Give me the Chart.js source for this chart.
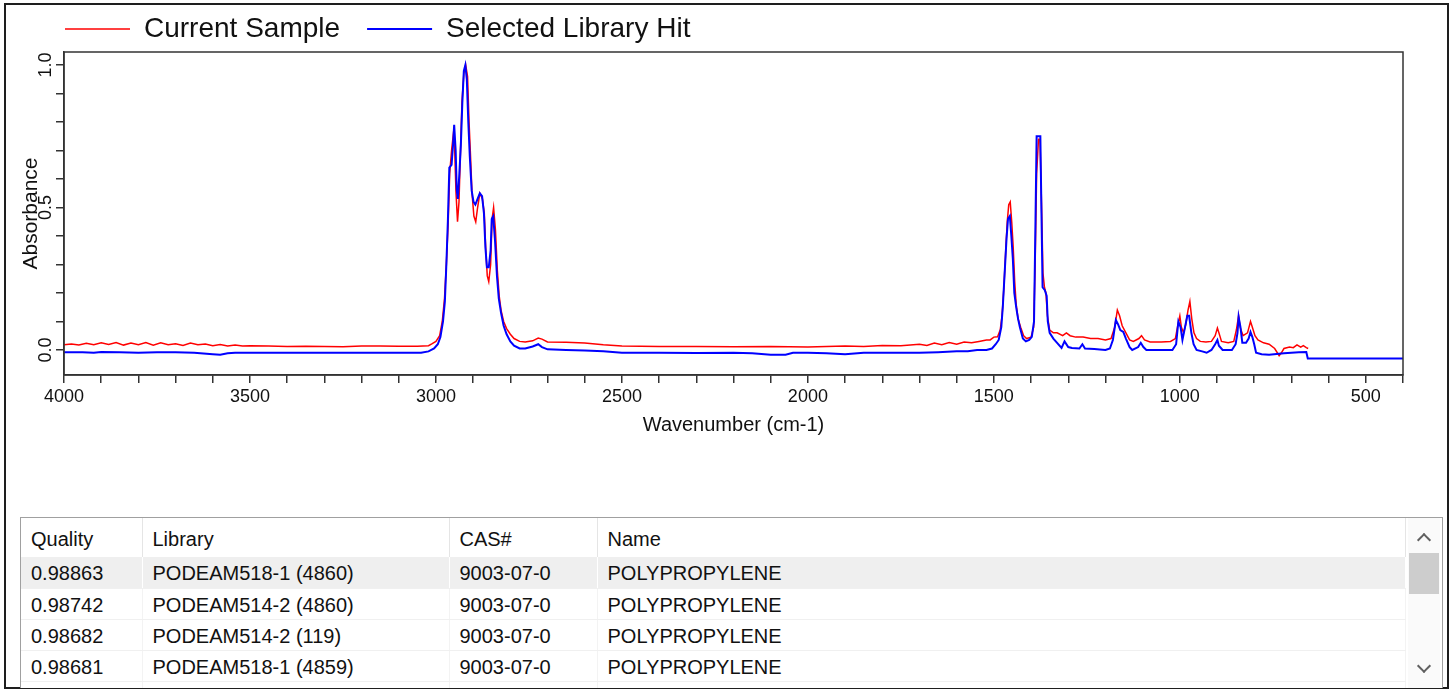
<!DOCTYPE html>
<html>
<head>
<meta charset="utf-8">
<script src="https://cdn.jsdelivr.net/npm/chart.js@4.4.1/dist/chart.umd.min.js"></script>
<style>
    body { margin: 0; background: #fff; font-family: 'Liberation Sans', Arial, sans-serif; }
    #frame { position: absolute; left: 4px; top: 3px; width: 1441px; height: 682px; border: 2px solid #1e1e1e; }
    #spectrum { position: absolute; left: 0; top: 0; }
    #hits { position: absolute; left: 20px; top: 517px; width: 1421px; height: 170px; border: 1px solid #a0a0a0; border-bottom: none; overflow: hidden; background: #fff; }
    #hits table { border-collapse: collapse; table-layout: fixed; width: 1385px; font-size: 20px; color: #111; }
    #hits th { height: 39px; font-weight: normal; text-align: left; padding: 4px 0 0 10px; border-right: 1px solid #e5e5e5; box-sizing: border-box; }
    #hits td { height: 31px; padding: 3px 0 0 10px; border-right: 1px solid #f3f3f3; border-bottom: 1px solid #f0f0f0; white-space: nowrap; box-sizing: border-box; }
    #hits tr.sel td { background: #efefef; border-right-color: #fff; }
    #scroll { position: absolute; right: 2px; top: 0; width: 32px; height: 170px; background: #fafafa; }
    #thumb { position: absolute; left: 1px; top: 35px; width: 30px; height: 41px; background: #cdcdcd; }
    .arrow { position: absolute; left: 11px; width: 8px; height: 8px; border-left: 2px solid #606060; border-top: 2px solid #606060; }
    #up { top: 17px; transform: rotate(45deg); }
    #down { top: 143px; transform: rotate(225deg); }
</style>
</head>
<body>
<div id="frame"></div>
<canvas id="spectrum" width="1453" height="450"></canvas>
<div id="hits">
    <table id="hitTable"></table>
    <div id="scroll"><div class="arrow" id="up"></div><div id="thumb"></div><div class="arrow" id="down"></div></div>
</div>
<script>
// current sample spectrum (red)
var sampleWavenumbers = [
    4000, 3980, 3960, 3940, 3920, 3900, 3880, 3860, 3840, 3820,
    3800, 3780, 3760, 3740, 3720, 3700, 3680, 3660, 3640, 3620,
    3600, 3580, 3560, 3540, 3520, 3500, 3450, 3400, 3350, 3300,
    3250, 3200, 3150, 3100, 3050, 3020, 3010, 3000, 2990, 2983,
    2977, 2972, 2967, 2963, 2958, 2953, 2950, 2946, 2942, 2938,
    2934, 2930, 2925, 2920, 2915, 2911, 2907, 2903, 2898, 2893,
    2888, 2882, 2875, 2870, 2866, 2862, 2858, 2853, 2849, 2845,
    2840, 2835, 2830, 2825, 2818, 2810, 2800, 2790, 2775, 2760,
    2740, 2725, 2715, 2700, 2650, 2600, 2550, 2500, 2400, 2300,
    2200, 2100, 2000, 1950, 1900, 1850, 1800, 1750, 1700, 1680,
    1660, 1640, 1620, 1600, 1580, 1560, 1540, 1520, 1510, 1500,
    1490, 1483, 1478, 1473, 1468, 1464, 1460, 1456, 1452, 1448,
    1444, 1440, 1435, 1428, 1420, 1412, 1400, 1393, 1389, 1385,
    1380, 1376, 1372, 1368, 1364, 1360, 1356, 1350, 1340, 1330,
    1315, 1305, 1295, 1280, 1260, 1240, 1220, 1200, 1185, 1175,
    1168, 1162, 1155, 1145, 1135, 1125, 1110, 1103, 1095, 1080,
    1050, 1025, 1012, 1005, 1000, 996, 990, 984, 978, 973,
    968, 962, 955, 945, 930, 915, 905, 899, 895, 888,
    870, 855, 848, 842, 838, 830, 818, 810, 805, 798,
    790, 775, 760, 745, 733, 727, 720, 705, 695, 685,
    675, 668, 660, 655
];
var sampleAbsorbance = [
    0.018, 0.021, 0.017, 0.023, 0.018, 0.025, 0.019, 0.026, 0.017, 0.024,
    0.018, 0.026, 0.017, 0.025, 0.018, 0.022, 0.016, 0.024, 0.018, 0.021,
    0.015, 0.019, 0.014, 0.017, 0.014, 0.015, 0.014, 0.012, 0.013, 0.012,
    0.011, 0.014, 0.014, 0.013, 0.013, 0.015, 0.022, 0.03, 0.05, 0.1,
    0.18, 0.3, 0.45, 0.62, 0.7, 0.76, 0.72, 0.55, 0.45, 0.52,
    0.7, 0.87, 0.97, 1.0, 0.96, 0.8, 0.68, 0.55, 0.47, 0.45,
    0.5, 0.55, 0.53, 0.48, 0.35, 0.26, 0.24, 0.3, 0.46, 0.5,
    0.42, 0.28, 0.19, 0.14, 0.1, 0.075, 0.055, 0.04, 0.03, 0.028,
    0.032, 0.042, 0.038, 0.028, 0.027, 0.024, 0.018, 0.014, 0.012, 0.012,
    0.011, 0.012, 0.01, 0.012, 0.014, 0.012, 0.016, 0.015, 0.02, 0.016,
    0.024, 0.018, 0.026, 0.02, 0.028, 0.025, 0.03, 0.035, 0.035, 0.045,
    0.046, 0.07, 0.12, 0.22, 0.35, 0.45, 0.51, 0.52, 0.45, 0.36,
    0.24, 0.16, 0.11, 0.08, 0.05, 0.04, 0.045, 0.08, 0.3, 0.62,
    0.74, 0.74, 0.52, 0.27, 0.22, 0.2, 0.12, 0.07, 0.06, 0.06,
    0.05, 0.06, 0.05, 0.045, 0.045, 0.04, 0.04, 0.035, 0.04, 0.08,
    0.14, 0.12, 0.085, 0.06, 0.035, 0.03, 0.04, 0.05, 0.035, 0.028,
    0.028, 0.03, 0.04, 0.09, 0.12, 0.08, 0.06, 0.09, 0.14, 0.17,
    0.11, 0.06, 0.04, 0.03, 0.028, 0.03, 0.05, 0.077, 0.06, 0.03,
    0.025, 0.03, 0.07, 0.12, 0.08, 0.05, 0.06, 0.1, 0.08, 0.05,
    0.035, 0.025, 0.02, 0.005, -0.02, -0.01, 0.005, 0.01, 0.008, 0.018,
    0.01, 0.015, 0.008, 0.005
];

// selected library hit spectrum (blue)
var libraryWavenumbers = [
    4000, 3950, 3920, 3900, 3850, 3800, 3750, 3700, 3650, 3600,
    3580, 3560, 3540, 3500, 3400, 3300, 3200, 3100, 3040, 3020,
    3005, 2995, 2988, 2981, 2976, 2972, 2968, 2964, 2958, 2954,
    2951, 2947, 2944, 2941, 2937, 2933, 2929, 2925, 2921, 2917,
    2913, 2909, 2904, 2899, 2894, 2888, 2882, 2876, 2871, 2867,
    2863, 2858, 2853, 2850, 2846, 2841, 2836, 2831, 2825, 2818,
    2810, 2800, 2790, 2775, 2760, 2740, 2725, 2715, 2700, 2650,
    2600, 2550, 2500, 2400, 2300, 2200, 2150, 2100, 2060, 2040,
    2000, 1950, 1900, 1850, 1800, 1700, 1650, 1600, 1570, 1545,
    1520, 1505, 1495, 1487, 1480, 1476, 1471, 1466, 1462, 1457,
    1453, 1449, 1445, 1440, 1435, 1430, 1422, 1414, 1405, 1398,
    1392, 1388, 1385, 1375, 1372, 1369, 1363, 1358, 1355, 1350,
    1340, 1330, 1318, 1310, 1300, 1290, 1270, 1262, 1255, 1230,
    1200, 1188, 1180, 1172, 1166, 1160, 1152, 1145, 1135, 1128,
    1112, 1105, 1098, 1090, 1040, 1020, 1010, 1004, 998, 993,
    986, 980, 975, 969, 963, 955, 940, 928, 915, 905,
    899, 895, 885, 860, 850, 845, 842, 837, 832, 822,
    815, 810, 805, 800, 795, 780, 760, 720, 700, 680,
    660, 656, 620, 400
];
var libraryAbsorbance = [
    -0.008, -0.008, -0.01, -0.007, -0.008, -0.01, -0.008, -0.008, -0.01, -0.015,
    -0.017, -0.012, -0.01, -0.01, -0.01, -0.01, -0.01, -0.01, -0.01, -0.005,
    0.005, 0.02, 0.045, 0.1, 0.17, 0.3, 0.45, 0.64, 0.65, 0.72,
    0.79, 0.7, 0.56, 0.53, 0.62, 0.72, 0.87, 0.98, 1.0, 0.95,
    0.8, 0.68, 0.56, 0.52, 0.51, 0.53, 0.55, 0.54, 0.48, 0.36,
    0.29, 0.29, 0.35, 0.46, 0.47, 0.38, 0.26, 0.18, 0.13, 0.085,
    0.055, 0.03, 0.015, 0.005, 0.005, 0.012, 0.02, 0.01, 0.002, 0.0,
    -0.002, -0.005, -0.01, -0.01, -0.011, -0.01, -0.012, -0.017, -0.017, -0.01,
    -0.01, -0.012, -0.015, -0.01, -0.01, -0.01, -0.008, -0.005, -0.005, 0.0,
    0.0, 0.005, 0.02, 0.035, 0.08, 0.15, 0.27, 0.39, 0.46, 0.47,
    0.4, 0.32, 0.2, 0.15, 0.11, 0.08, 0.04, 0.03, 0.035, 0.046,
    0.1, 0.46, 0.75, 0.75, 0.48, 0.22, 0.21, 0.19, 0.1, 0.06,
    0.04, 0.025, 0.007, 0.03, 0.01, 0.007, 0.005, 0.02, 0.005, 0.003,
    0.0, 0.005, 0.035, 0.105, 0.09, 0.07, 0.063, 0.04, 0.01, 0.0,
    0.01, 0.025, 0.01, 0.0, 0.0, 0.0, 0.02, 0.1, 0.08, 0.035,
    0.08, 0.12, 0.12, 0.06, 0.02, 0.0, -0.005, -0.01, 0.0, 0.02,
    0.035, 0.015, 0.0, 0.0, 0.02, 0.06, 0.116, 0.08, 0.025, 0.025,
    0.04, 0.063, 0.045, 0.02, -0.01, -0.015, -0.017, -0.012, -0.01, -0.008,
    -0.007, -0.03, -0.03, -0.03
];

var xTickLabels = [4000, 3500, 3000, 2500, 2000, 1500, 1000, 500];
var yTickLabels = [0, 0.5, 1];

// search hits table
var qualities = ['0.98863', '0.98742', '0.98682', '0.98681'];
var libraries = ['PODEAM518-1 (4860)', 'PODEAM514-2 (4860)', 'PODEAM514-2 (119)', 'PODEAM518-1 (4859)'];
var casNumbers = ['9003-07-0', '9003-07-0', '9003-07-0', '9003-07-0'];
var names = ['POLYPROPYLENE', 'POLYPROPYLENE', 'POLYPROPYLENE', 'POLYPROPYLENE'];

function toPoints(xs, ys) {
    return xs.map(function (x, i) { return { x: x, y: ys[i] }; });
}

// legend sits over the plot's left edge, and the plot gets a full box
var spectrumFrame = {
    id: 'spectrumFrame',
    afterLayout: function (chart) {
        chart.legend.left = 38;
        chart.legend.top = -12;
    },
    afterDraw: function (chart) {
        var a = chart.chartArea;
        var ctx = chart.ctx;
        ctx.save();
        ctx.strokeStyle = '#333';
        ctx.lineWidth = 1.5;
        ctx.strokeRect(a.left, a.top, a.right - a.left, a.bottom - a.top);
        ctx.restore();
    }
};

Chart.defaults.font.family = "'Liberation Sans', Arial, sans-serif";

var ctx = document.getElementById('spectrum').getContext('2d');
var spectrumChart = new Chart(ctx, {
    type: 'line',
    data: {
        datasets: [{
            label: 'Current Sample',
            data: toPoints(sampleWavenumbers, sampleAbsorbance),
            borderColor: '#ff0000',
            backgroundColor: '#ff0000',
            borderWidth: 1.5,
            pointRadius: 0,
            pointStyle: 'line',
            tension: 0,
            order: 1
        }, {
            label: 'Selected Library Hit',
            data: toPoints(libraryWavenumbers, libraryAbsorbance),
            borderColor: '#0000ff',
            backgroundColor: '#0000ff',
            borderWidth: 2,
            pointRadius: 0,
            pointStyle: 'line',
            tension: 0,
            order: 0
        }]
    },
    options: {
        responsive: false,
        animation: false,
        events: [],
        layout: { padding: { left: 5, right: 50, top: 4, bottom: 0 } },
        plugins: {
            tooltip: { enabled: false },
            legend: {
                position: 'top',
                align: 'start',
                reverse: true,
                maxHeight: 48,
                labels: {
                    usePointStyle: true,
                    pointStyleWidth: 65,
                    padding: 27,
                    color: '#111',
                    font: { size: 28 }
                }
            }
        },
        scales: {
            x: {
                type: 'linear',
                reverse: true,
                min: 400,
                max: 4000,
                afterBuildTicks: function (axis) {
                    var ticks = [];
                    for (var v = 400; v <= 4000; v += 100) ticks.push({ value: v });
                    axis.ticks = ticks;
                },
                afterFit: function (axis) { axis.height = 75; },
                border: { color: '#333', width: 1.5 },
                grid: { drawOnChartArea: false, drawTicks: true, tickLength: 8, color: '#333', lineWidth: 1.5 },
                ticks: {
                    autoSkip: false,
                    maxRotation: 0,
                    minRotation: 0,
                    padding: 3,
                    color: '#111',
                    font: { size: 18 },
                    callback: function (value) {
                        return xTickLabels.indexOf(value) >= 0 ? String(value) : '';
                    }
                },
                title: {
                    display: true,
                    text: 'Wavenumber (cm-1)',
                    color: '#111',
                    font: { size: 20 },
                    padding: { top: 0, bottom: 13 }
                }
            },
            y: {
                min: -0.088,
                max: 1.046,
                afterBuildTicks: function (axis) {
                    var ticks = [];
                    for (var i = 0; i <= 10; i++) ticks.push({ value: i / 10 });
                    axis.ticks = ticks;
                },
                afterFit: function (axis) { axis.width = 59; },
                border: { color: '#333', width: 1.5 },
                grid: { drawOnChartArea: false, drawTicks: true, tickLength: 8, color: '#333', lineWidth: 1.5 },
                ticks: {
                    autoSkip: false,
                    minRotation: 90,
                    maxRotation: 90,
                    crossAlign: 'center',
                    padding: -3,
                    color: '#111',
                    font: { size: 18 },
                    callback: function (value) {
                        return yTickLabels.indexOf(value) >= 0 ? value.toFixed(1) : '';
                    }
                },
                title: {
                    display: true,
                    text: 'Absorbance',
                    color: '#111',
                    font: { size: 21 },
                    padding: { top: 14, bottom: 0 }
                }
            }
        }
    },
    plugins: [spectrumFrame]
});

// fill the hits table
var table = document.getElementById('hitTable');
var html = '<colgroup><col style="width:121px"><col style="width:307px"><col style="width:148px"><col></colgroup>';
html += '<tr><th>Quality</th><th>Library</th><th>CAS#</th><th>Name</th></tr>';
qualities.forEach(function (q, i) {
    html += '<tr' + (i === 0 ? ' class="sel"' : '') + '><td>' + q + '</td><td>' + libraries[i] +
        '</td><td>' + casNumbers[i] + '</td><td>' + names[i] + '</td></tr>';
});
html += '<tr><td></td><td></td><td></td><td></td></tr>';
table.innerHTML = html;
</script>
</body>
</html>
